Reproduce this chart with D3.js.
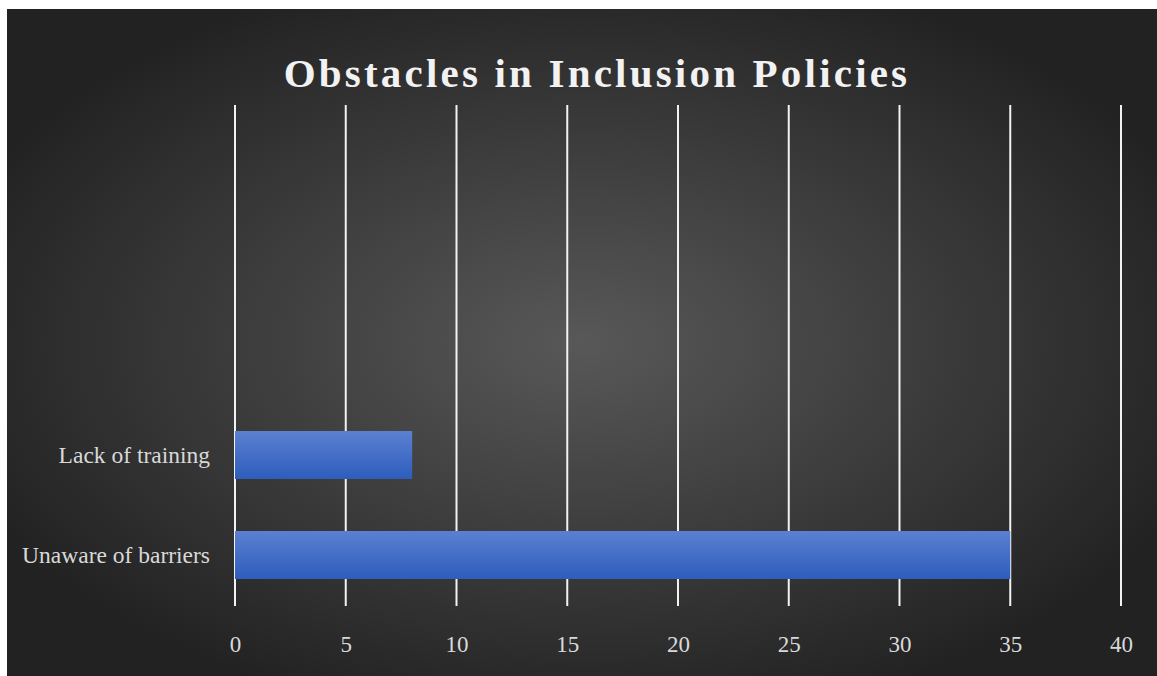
<!DOCTYPE html>
<html>
<head>
<meta charset="utf-8">
<script src="https://cdn.jsdelivr.net/npm/d3@7"></script>
<style>
  html, body { margin: 0; padding: 0; background: #ffffff; }
  svg { display: block; }
</style>
</head>
<body>
<svg id="chart" width="1157" height="676"></svg>
<script>
// Categories listed bottom-to-top; the upper three slots are blank.
const categories = ["Unaware of barriers", "Lack of training", " ", "  ", "   "];
const values = [35, 8, null, null, null];
const xTicks = [0, 5, 10, 15, 20, 25, 30, 35, 40];
const title = "Obstacles in Inclusion Policies";

const W = 1157, H = 676;
const frame = { x: 7, y: 9, w: W - 7, h: H - 9 };
const plot = { left: 235, right: 1121, top: 105, bottom: 605 };

const svg = d3.select("#chart");
const defs = svg.append("defs");

const bg = defs.append("radialGradient")
  .attr("id", "bgGrad")
  .attr("cx", "50%").attr("cy", "50%").attr("r", "58%");
bg.append("stop").attr("offset", "0%").attr("stop-color", "#585858");
bg.append("stop").attr("offset", "100%").attr("stop-color", "#222222");

const barGrad = defs.append("linearGradient")
  .attr("id", "barGrad")
  .attr("x1", "0").attr("y1", "0").attr("x2", "0").attr("y2", "1");
barGrad.append("stop").attr("offset", "0%").attr("stop-color", "#5b80d1");
barGrad.append("stop").attr("offset", "100%").attr("stop-color", "#2e5dbd");

svg.append("rect")
  .attr("x", frame.x).attr("y", frame.y)
  .attr("width", frame.w).attr("height", frame.h)
  .attr("fill", "url(#bgGrad)");

const x = d3.scaleLinear()
  .domain([xTicks[0], xTicks[xTicks.length - 1]])
  .range([plot.left, plot.right]);

const y = d3.scaleBand()
  .domain(categories)
  .range([plot.bottom, plot.top])
  .paddingInner(0.52)
  .paddingOuter(0.26);

// vertical gridlines
svg.append("g")
  .selectAll("line")
  .data(xTicks)
  .join("line")
  .attr("x1", d => x(d)).attr("x2", d => x(d))
  .attr("y1", plot.top).attr("y2", plot.bottom + 1)
  .attr("stroke", "#f2f2f2")
  .attr("stroke-width", 2);

// bars
const rows = categories.map((c, i) => ({ c, v: values[i] })).filter(d => d.v != null);
svg.append("g")
  .selectAll("rect")
  .data(rows)
  .join("rect")
  .attr("x", x(0))
  .attr("y", d => y(d.c))
  .attr("width", d => x(d.v) - x(0))
  .attr("height", y.bandwidth())
  .attr("fill", "url(#barGrad)");

// x axis labels
const xAxis = d3.axisBottom(x).tickValues(xTicks).tickSize(0).tickPadding(0);
const gx = svg.append("g")
  .attr("transform", `translate(0,${plot.bottom})`)
  .call(xAxis);
gx.select(".domain").remove();
gx.selectAll("text")
  .attr("dy", null)
  .attr("y", 47)
  .attr("fill", "#d9d9d9")
  .attr("font-family", "'Liberation Serif', 'Times New Roman', serif")
  .attr("font-size", 23);

// category labels
const yAxis = d3.axisLeft(y).tickSize(0).tickPadding(0);
const gy = svg.append("g")
  .attr("transform", `translate(${plot.left - 25},0)`)
  .call(yAxis);
gy.select(".domain").remove();
gy.selectAll("text")
  .attr("dy", "0.33em")
  .attr("fill", "#d9d9d9")
  .attr("font-family", "'Liberation Serif', 'Times New Roman', serif")
  .attr("font-size", 23.5);

// title
svg.append("text")
  .attr("x", 597)
  .attr("y", 87)
  .attr("text-anchor", "middle")
  .attr("fill", "#f2f2f2")
  .attr("font-family", "'Liberation Serif', 'Times New Roman', serif")
  .attr("font-weight", "bold")
  .attr("font-size", 41)
  .attr("letter-spacing", 3.2)
  .text(title);
</script>
</body>
</html>
